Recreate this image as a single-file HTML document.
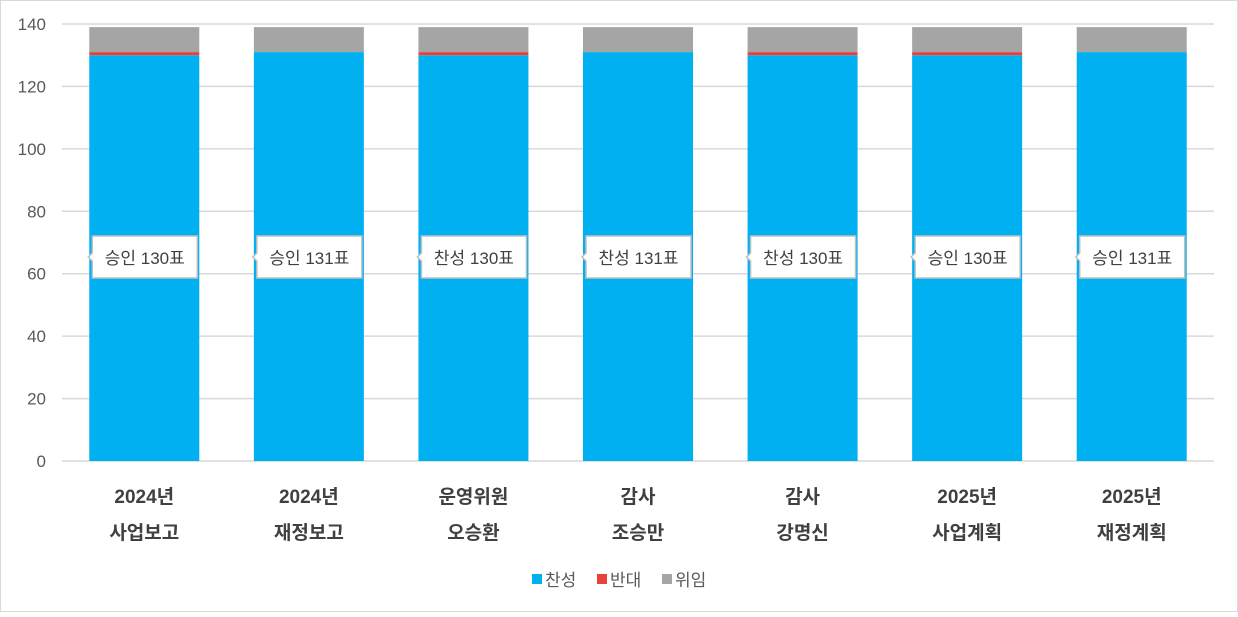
<!DOCTYPE html>
<html><head><meta charset="utf-8"><style>
body{margin:0;background:#fff;}
svg text{font-family:"Liberation Sans","Noto Sans CJK KR",sans-serif;}
</style></head><body>
<svg width="1238" height="612" xmlns="http://www.w3.org/2000/svg">
<rect x="0.5" y="0.5" width="1237" height="611" fill="#fff" stroke="#d9d9d9"/>
<g id="grid"></g><g id="bars"></g><g id="labels"></g>
<g font-size="17" fill="#595959">
<rect x="532" y="574" width="10" height="10" fill="#00b0f0"/>
<text x="545" y="586">찬성</text>
<rect x="597" y="574" width="10" height="10" fill="#e8413c"/>
<text x="610" y="586">반대</text>
<rect x="662" y="574" width="10" height="10" fill="#a5a5a5"/>
<text x="675" y="586">위임</text>
</g>
</svg>
<script>
const cat1=["2024년","2024년","운영위원","감사","감사","2025년","2025년"];
const cat2=["사업보고","재정보고","오승환","조승만","강명신","사업계획","재정계획"];
const approve=[130,131,130,131,130,130,131];
const oppose=[1,0,1,0,1,1,0];
const proxy=[8,8,8,8,8,8,8];
const labels=["승인 130표","승인 131표","찬성 130표","찬성 131표","찬성 130표","승인 130표","승인 131표"];
const ticks=[0,20,40,60,80,100,120,140];
const NS="http://www.w3.org/2000/svg";
const y0=461,y1=24,ymax=140,x0=62,x1=1214;
const y=v=>y0-(v/ymax)*(y0-y1);
const step=(x1-x0)/cat1.length, bw=110;
const cx=i=>x0+step*(i+0.5);
function mk(t,a,p){const e=document.createElementNS(NS,t);for(const k in a)e.setAttribute(k,a[k]);p.appendChild(e);return e;}
const grid=document.getElementById('grid'),bars=document.getElementById('bars'),lab=document.getElementById('labels');
ticks.forEach(t=>{
 const l=mk('line',{x1:x0,x2:x1,y1:y(t),y2:y(t),stroke:'#d9d9d9','stroke-width':1.5},grid);
 
 
 const tx=mk('text',{x:46,y:y(t)+6,'text-anchor':'end','font-size':17,fill:'#595959'},grid);
 tx.textContent=t;
 
 
});
cat1.forEach((c,i)=>{
 const x=cx(i)-bw/2;
 const segs=[[0,approve[i],'#00b0f0','approve'],[approve[i],approve[i]+oppose[i],'#e8413c','oppose'],[approve[i]+oppose[i],approve[i]+oppose[i]+proxy[i],'#a5a5a5','proxy']];
 segs.forEach(s=>{
  if(s[1]<=s[0])return;
  const r=mk('rect',{x:x,y:y(s[1]),width:bw,height:y(s[0])-y(s[1]),fill:s[2]},bars);
  
  
 });
 const g=mk('g',{},lab);
 
 
 const bx=x+3, by=236, w=105, h=42;
 mk('path',{d:`M${bx} ${by} H${bx+w} V${by+h} H${bx} V${by+25} L${bx-4} ${by+21} L${bx} ${by+17} Z`,fill:'#fff',stroke:'#bfbfbf','stroke-width':1.5},g);
 const t=mk('text',{x:bx+w/2,y:by+28,'text-anchor':'middle','font-size':17,fill:'#404040'},g);
 t.textContent=labels[i];
 const a=mk('text',{x:cx(i),y:503,'text-anchor':'middle','font-size':19,'font-weight':'bold',fill:'#404040'},grid);
 a.textContent=c;
 
 
 const b=mk('text',{x:cx(i),y:539,'text-anchor':'middle','font-size':19,'font-weight':'bold',fill:'#404040'},grid);
 b.textContent=cat2[i];
 
 
});
</script>
</body></html>
